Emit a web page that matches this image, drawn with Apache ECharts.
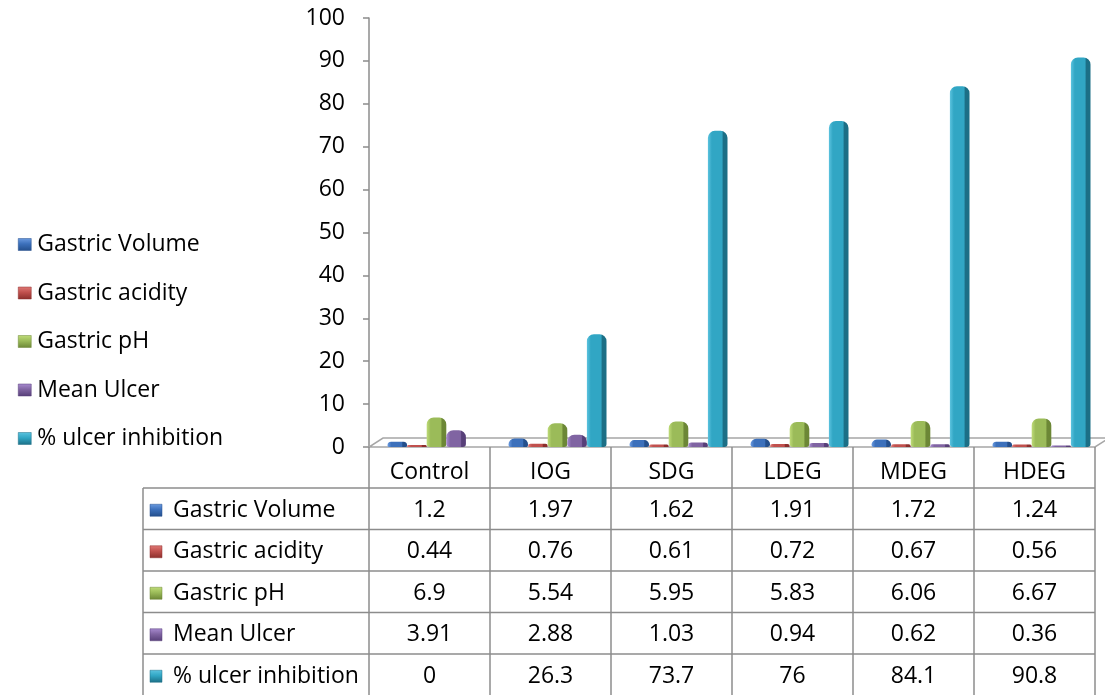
<!DOCTYPE html>
<html><head><meta charset="utf-8">
<script src="https://cdn.jsdelivr.net/npm/echarts@6.0.0/dist/echarts.min.js"></script>
<style>html,body{margin:0;padding:0;background:#fff}#c{width:1105px;height:695px}</style>
</head><body><div id="c"></div>
<script>
// ---- data ----
const categories = ['Control', 'IOG', 'SDG', 'LDEG', 'MDEG', 'HDEG'];
const seriesNames = ['Gastric Volume', 'Gastric acidity', 'Gastric pH', 'Mean Ulcer', '% ulcer inhibition'];
const gastricVolume = [1.2, 1.97, 1.62, 1.91, 1.72, 1.24];
const gastricAcidity = [0.44, 0.76, 0.61, 0.72, 0.67, 0.56];
const gastricPH = [6.9, 5.54, 5.95, 5.83, 6.06, 6.67];
const meanUlcer = [3.91, 2.88, 1.03, 0.94, 0.62, 0.36];
const ulcerInhibition = [0, 26.3, 73.7, 76, 84.1, 90.8];
const yMin = 0, yMax = 100, yInterval = 10;

// ---- style ----
const FONT = '"Open Sans", "Noto Sans", sans-serif';
const FS = 23;
const palette = [
  {light: '#6b9be0', main: '#3c70bb', dark: '#244f8c'},
  {light: '#e07a77', main: '#c0504d', dark: '#8c2f2c'},
  {light: '#bfdc78', main: '#9bbb59', dark: '#6c8736'},
  {light: '#a88bd0', main: '#8064a2', dark: '#573f78'},
  {light: '#5cc3df', main: '#31a6c4', dark: '#1c6f86'}
];
const allValues = [gastricVolume, gastricAcidity, gastricPH, meanUlcer, ulcerInhibition];
const SHIFT = 7;            // half depth of the 3D floor
const DEPTH_X = 14, DEPTH_Y = 9;
const LINE = '#8c8c8c';

function grad(p) {
  return new echarts.graphic.LinearGradient(0, 0, 1, 0, [
    {offset: 0, color: p.light},
    {offset: 0.2, color: p.main},
    {offset: 0.72, color: p.main},
    {offset: 0.78, color: p.dark},
    {offset: 1, color: p.dark}
  ]);
}
function iconGrad(p) {
  return new echarts.graphic.LinearGradient(0, 0, 0, 1, [
    {offset: 0, color: p.light},
    {offset: 0.45, color: p.main},
    {offset: 1, color: p.dark}
  ]);
}

const chart = echarts.init(document.getElementById('c'));
const option = {
  animation: false,
  backgroundColor: '#fff',
  textStyle: {fontFamily: FONT},
  legend: {
    orient: 'vertical', left: 13, top: 228,
    itemWidth: 13, itemHeight: 12, itemGap: 25.5,
    icon: 'rect',
    textStyle: {fontFamily: FONT, fontSize: FS, color: '#000', lineHeight: 22, padding: [0, 0, 0, 1]},
    data: seriesNames.map((n, i) => ({name: n, itemStyle: {color: iconGrad(palette[i]), borderColor: palette[i].dark, borderWidth: 0.5}}))
  },
  grid: {left: 376, right: 3, top: 18, bottom: 248},
  xAxis: {
    type: 'category', data: categories,
    axisLine: {show: false}, axisTick: {show: false}, axisLabel: {show: false}
  },
  yAxis: {
    type: 'value', min: yMin, max: yMax, interval: yInterval, offset: SHIFT,
    axisLine: {show: true, lineStyle: {color: LINE, width: 1.5}},
    axisTick: {show: true, length: 6, lineStyle: {color: LINE, width: 1.5}},
    axisLabel: {fontFamily: FONT, fontSize: FS, color: '#000', margin: 24},
    splitLine: {show: false}
  },
  series: seriesNames.map((n, i) => ({
    name: n, type: 'bar', data: allValues[i],
    barGap: '0%', barCategoryGap: '19%',
    itemStyle: {color: grad(palette[i]), borderRadius: [7, 7, 3, 3]},
    z: 3
  }))
};
chart.setOption(option);

// ---- floor + data table (positions derived from the category axis) ----
const cx = categories.map((c, i) => chart.convertToPixel({xAxisIndex: 0}, c) - SHIFT);
const colW = cx[1] - cx[0];
const x0 = cx[0] - colW / 2;
const xEnd = cx[cx.length - 1] + colW / 2;
const yBase = chart.convertToPixel({yAxisIndex: 0}, yMin);
const headerH = 41;
const rowH = 41.5;
const tableLeft = 143;
const tableBottom = 695;
const g = [];

// floor
g.push({type: 'polygon', z: 1, shape: {points: [[x0, yBase], [xEnd, yBase], [xEnd + DEPTH_X, yBase - DEPTH_Y], [x0 + DEPTH_X, yBase - DEPTH_Y]]},
  style: {fill: '#fff', stroke: '#a6a6a6', lineWidth: 1.5}});
// vertical lines of the table
for (let i = 0; i <= categories.length; i++) {
  g.push({type: 'line', z: 5, shape: {x1: x0 + i * colW, y1: yBase, x2: x0 + i * colW, y2: tableBottom},
    style: {stroke: LINE, lineWidth: 1.5}});
}
g.push({type: 'line', z: 5, shape: {x1: tableLeft, y1: yBase + headerH, x2: tableLeft, y2: tableBottom}, style: {stroke: LINE, lineWidth: 1.5}});
// horizontal lines
for (let r = 0; r < seriesNames.length; r++) {
  const y = yBase + headerH + r * rowH;
  g.push({type: 'line', z: 5, shape: {x1: tableLeft, y1: y, x2: xEnd, y2: y}, style: {stroke: LINE, lineWidth: 1.5}});
}
// header
categories.forEach((c, i) => {
  g.push({type: 'text', z: 6, x: cx[i], y: yBase + headerH / 2 + 5,
    style: {text: c, fontFamily: FONT, fontSize: FS, fill: '#000', align: 'center', verticalAlign: 'middle'}});
});
// rows
seriesNames.forEach((n, r) => {
  const yc = yBase + headerH + r * rowH + rowH / 2 + 1.5;
  g.push({type: 'rect', z: 6, shape: {x: tableLeft + 7, y: yc - 6, width: 12, height: 12},
    style: {fill: iconGrad(palette[r]), stroke: palette[r].dark, lineWidth: 0.5}});
  g.push({type: 'text', z: 6, x: tableLeft + 30, y: yc,
    style: {text: n, fontFamily: FONT, fontSize: FS, fill: '#000', align: 'left', verticalAlign: 'middle'}});
  allValues[r].forEach((v, i) => {
    g.push({type: 'text', z: 6, x: cx[i], y: yc,
      style: {text: String(v), fontFamily: FONT, fontSize: FS, fill: '#000', align: 'center', verticalAlign: 'middle'}});
  });
});
chart.setOption({graphic: {elements: g}});
</script>
</body></html>
